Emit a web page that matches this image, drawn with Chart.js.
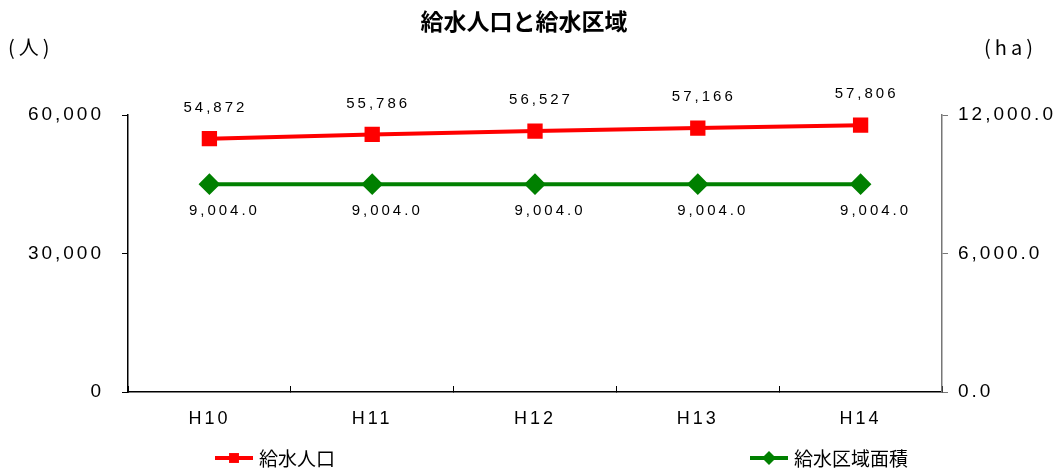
<!DOCTYPE html>
<html>
<head>
<meta charset="utf-8">
<script src="https://cdn.jsdelivr.net/npm/chart.js@4/dist/chart.umd.min.js"></script>
<style>
  body { margin: 0; background: #fff; }
  canvas { display: block; }
</style>
</head>
<body>
<canvas id="chart" width="1058" height="473"></canvas>
<script>
// data
const years = ["H10", "H11", "H12", "H13", "H14"];
const population = [54872, 55786, 56527, 57166, 57806];
const area = [9004.0, 9004.0, 9004.0, 9004.0, 9004.0];
const leftTicks = [0, 30000, 60000];
const rightTicks = [0, 6000, 12000];

const FONT = "'Liberation Sans', 'Noto Sans CJK JP', sans-serif";
const JP = "'Noto Sans CJK JP', 'Liberation Sans', sans-serif";

function fmt(v, d) {
  return v.toLocaleString("en-US", { minimumFractionDigits: d, maximumFractionDigits: d });
}

// spaced text like the original
const spacing = {
  id: "spacing",
  beforeDraw(chart) { chart.ctx.letterSpacing = "3px"; }
};

// title, unit labels, data labels and legend
const extras = {
  id: "extras",
  afterDraw(chart) {
    const ctx = chart.ctx;
    ctx.save();
    ctx.letterSpacing = "0px";
    ctx.fillStyle = "#000";
    ctx.textAlign = "center";
    ctx.textBaseline = "middle";
    ctx.font = "bold 23px " + JP;
    ctx.fillText("給水人口と給水区域", 524, 21);

    ctx.font = "20px " + JP;
    ctx.letterSpacing = "4px";
    ctx.textAlign = "left";
    ctx.fillText("(人)", 8, 47);
    ctx.fillText("(ha)", 984, 47);

    // data labels
    ctx.font = "15px " + FONT;
    ctx.letterSpacing = "3px";
    ctx.textAlign = "center";
    chart.getDatasetMeta(0).data.forEach((p, i) => {
      ctx.fillText(fmt(population[i], 0), p.x + 6, p.y - 31);
    });
    chart.getDatasetMeta(1).data.forEach((p, i) => {
      ctx.fillText(fmt(area[i], 1), p.x + 15, p.y + 27);
    });

    // legend
    const items = [
      { x: 215, label: "給水人口", color: "#ff0000", style: "rect" },
      { x: 750, label: "給水区域面積", color: "#008000", style: "rectRot" }
    ];
    const ly = 458;
    ctx.letterSpacing = "0px";
    items.forEach(it => {
      ctx.strokeStyle = it.color;
      ctx.lineWidth = 4;
      ctx.beginPath();
      ctx.moveTo(it.x, ly);
      ctx.lineTo(it.x + 38, ly);
      ctx.stroke();
      ctx.fillStyle = it.color;
      Chart.helpers.drawPoint(ctx, { pointStyle: it.style, radius: 7, borderWidth: 0 }, it.x + 19, ly);
      ctx.fillStyle = "#000";
      ctx.textAlign = "left";
      ctx.font = "19px " + JP;
      ctx.fillText(it.label, it.x + 44, ly + 1);
    });
    ctx.restore();
  }
};

new Chart(document.getElementById("chart"), {
  type: "line",
  data: {
    labels: years,
    datasets: [
      {
        label: "給水人口",
        data: population,
        yAxisID: "y",
        borderColor: "#ff0000",
        backgroundColor: "#ff0000",
        borderWidth: 4,
        pointStyle: "rect",
        pointRadius: 8,
        pointHoverRadius: 8,
        tension: 0
      },
      {
        label: "給水区域面積",
        data: area,
        yAxisID: "y1",
        borderColor: "#008000",
        backgroundColor: "#008000",
        borderWidth: 4,
        pointStyle: "rectRot",
        pointRadius: 8,
        pointHoverRadius: 8,
        tension: 0
      }
    ]
  },
  options: {
    responsive: false,
    animation: false,
    layout: { padding: { top: 115, bottom: 31, left: 0, right: 0 } },
    plugins: {
      legend: { display: false },
      title: { display: false },
      tooltip: { enabled: false }
    },
    scales: {
      x: {
        offset: true,
        grid: { display: true, drawOnChartArea: false, tickLength: -6, color: "#000", offset: true },
        border: { color: "#000", width: 1.5 },
        ticks: { color: "#000", font: { family: FONT, size: 18 }, padding: 22 },
        afterFit(s) { s.height = 50; }
      },
      y: {
        position: "left",
        min: 0,
        max: 60000,
        afterBuildTicks(s) { s.ticks = leftTicks.map(v => ({ value: v })); },
        grid: { drawOnChartArea: false, tickLength: 6, color: "#000" },
        border: { color: "#000", width: 1.5 },
        ticks: { color: "#000", font: { family: FONT, size: 19 }, padding: 18, callback: v => fmt(v, 0) },
        afterFit(s) { s.width = 128; }
      },
      y1: {
        position: "right",
        min: 0,
        max: 12000,
        afterBuildTicks(s) { s.ticks = rightTicks.map(v => ({ value: v })); },
        grid: { drawOnChartArea: false, tickLength: 6, color: "#777" },
        border: { color: "#777", width: 1.5 },
        ticks: { color: "#000", font: { family: FONT, size: 19 }, padding: 10, callback: v => fmt(v, 1) },
        afterFit(s) { s.width = 116; }
      }
    }
  },
  plugins: [spacing, extras]
});
</script>
</body>
</html>
